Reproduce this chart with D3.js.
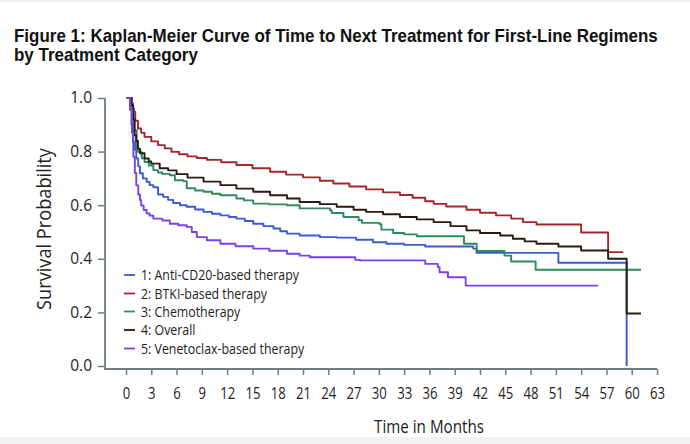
<!DOCTYPE html>
<html>
<head>
<meta charset="utf-8">
<script src="https://cdn.jsdelivr.net/npm/d3@7"></script>
<style>
  html, body { margin: 0; padding: 0; background: #ffffff; }
  svg { display: block; }
</style>
</head>
<body>
<svg id="chart" width="690" height="444"></svg>
<script>
// ---------- data ----------
const titleLines = [
  "Figure 1: Kaplan-Meier Curve of Time to Next Treatment for First-Line Regimens",
  "by Treatment Category"
];
const xTicks = [0,3,6,9,12,15,18,21,24,27,30,33,36,39,42,45,48,51,54,57,60,63];
const yTicks = [0.0,0.2,0.4,0.6,0.8,1.0];
const seriesNames = [
  "1: Anti-CD20-based therapy",
  "2: BTKI-based therapy",
  "3: Chemotherapy",
  "4: Overall",
  "5: Venetoclax-based therapy"
];
const seriesColors = ["#3a5ccc", "#a3262c", "#2d8a5c", "#2a1a12", "#7b42ec"];

// Anti-CD20
const antiTimes = [0,0.3,0.47,0.65,0.83,1.07,1.22,1.45,1.66,2.0,2.45,2.8,3.24,3.8,4.42,5.0,5.6,6.4,7.2,8.2,9.2,10.2,11.2,12.2,13.1,14.1,15.1,16.3,17.5,18.3,19.1,20.6,23,25,27.3,29.3,30.9,33,35.5,41.2,41.6,51.3,59.4];
const antiSurv  = [1,1,0.956,0.9,0.836,0.806,0.774,0.745,0.719,0.70,0.687,0.675,0.667,0.64,0.631,0.62,0.608,0.600,0.594,0.584,0.575,0.568,0.562,0.556,0.55,0.541,0.531,0.522,0.513,0.503,0.494,0.487,0.481,0.479,0.471,0.462,0.456,0.452,0.446,0.438,0.422,0.385,0];
// BTKI
const btkiTimes = [0,0.5,0.7,0.83,1.1,1.42,1.8,2.2,3.0,3.8,4.6,5.4,6.3,7.3,8.4,9.6,11.3,13.1,15,17.1,19,21,23,24.6,26.5,28.5,30.5,32.5,34,35.5,36.5,38,40.4,42,43.9,45.7,47.1,48.7,54,57.2,59];
const btkiSurv  = [1,1,0.98,0.949,0.915,0.886,0.87,0.855,0.838,0.824,0.812,0.799,0.79,0.782,0.776,0.769,0.76,0.75,0.738,0.725,0.714,0.704,0.691,0.681,0.67,0.659,0.648,0.638,0.628,0.615,0.605,0.595,0.583,0.572,0.562,0.55,0.537,0.528,0.498,0.425,0.425];
// Chemotherapy
const chemoTimes = [0,0.45,0.7,0.95,1.27,1.42,1.86,2.2,2.7,3.24,3.8,4.3,5.2,5.8,6.8,7.2,8.2,9.2,10.2,11.2,13.1,14,15.1,17,19.1,20.6,24.2,24.4,25.8,27.6,28,30.1,30.3,31.7,33,34.5,40.1,41.6,44.9,45.7,48.6,61.1];
const chemoSurv  = [1,1,0.96,0.88,0.806,0.799,0.775,0.761,0.748,0.731,0.722,0.717,0.712,0.693,0.69,0.663,0.655,0.65,0.643,0.637,0.625,0.618,0.606,0.603,0.60,0.588,0.581,0.571,0.556,0.544,0.534,0.529,0.509,0.496,0.491,0.484,0.456,0.429,0.412,0.39,0.359,0.359];
// Overall
const overallTimes = [0,0.4,0.63,0.85,1.03,1.2,1.42,1.66,2.2,2.7,3.0,4.0,5.0,6.0,7.3,9.2,11.2,13.1,15.1,17.1,19.1,20.6,23,25,27,28.5,30.5,32.5,34.5,36.5,38.5,40.4,42,44.4,45.9,47.3,48.7,51.3,54,57.2,59.4,61.1];
const overallSurv  = [1,1,0.974,0.92,0.861,0.84,0.811,0.794,0.774,0.763,0.755,0.738,0.73,0.716,0.703,0.688,0.675,0.662,0.65,0.637,0.625,0.612,0.604,0.594,0.583,0.575,0.566,0.556,0.547,0.537,0.522,0.506,0.496,0.487,0.475,0.465,0.456,0.446,0.431,0.40,0.196,0.196];
// Venetoclax
const venTimes = [0,0.3,0.5,0.7,0.87,1.05,1.22,1.45,1.66,1.8,2.1,2.45,2.8,3.24,4.3,5.2,6.2,7.2,7.8,8.4,9.6,11.2,13,15.1,17,19.1,20.6,21.8,27.2,27.8,35.5,37,37.2,38.2,40.3,56];
const venSurv  = [1,1,0.96,0.87,0.781,0.72,0.674,0.64,0.619,0.599,0.582,0.569,0.561,0.55,0.543,0.531,0.525,0.519,0.5,0.481,0.469,0.456,0.447,0.438,0.43,0.419,0.412,0.406,0.396,0.394,0.381,0.369,0.35,0.331,0.30,0.30];

const seriesTimes = [antiTimes, btkiTimes, chemoTimes, overallTimes, venTimes];
const seriesSurv  = [antiSurv, btkiSurv, chemoSurv, overallSurv, venSurv];

// ---------- layout ----------
const svg = d3.select("#chart");
const W = 690, H = 444;
const x = d3.scaleLinear().domain([0, 63]).range([126, 657]);
const y = d3.scaleLinear().domain([0, 1]).range([366, 98]);
const axisX = 105, axisY = 369;
const axisColor = "#6e7c84";
const textFont = "'Open Sans', 'Noto Sans', sans-serif";

// page bands
svg.append("rect").attr("x",0).attr("y",0).attr("width",W).attr("height",H).attr("fill","#ffffff");
svg.append("rect").attr("x",0).attr("y",0).attr("width",W).attr("height",2).attr("fill","#eeeeee");
svg.append("rect").attr("x",0).attr("y",437).attr("width",W).attr("height",7).attr("fill","#f3f3f3");

// title
const tg = svg.append("g");
const t1 = tg.append("text").attr("x",0).attr("y",0)
  .attr("font-family","'Liberation Sans', Arial, sans-serif").attr("font-weight","bold")
  .attr("font-size",17.5).attr("fill","#111").text(titleLines[0]);
const k1 = 644 / t1.node().getComputedTextLength();
t1.attr("transform", `translate(14,42) scale(${k1},1)`);
tg.append("text").attr("transform", `translate(14,61) scale(${k1},1)`)
  .attr("font-family","'Liberation Sans', Arial, sans-serif").attr("font-weight","bold")
  .attr("font-size",17.5).attr("fill","#111").text(titleLines[1]);

// axes
const yAxis = d3.axisLeft(y).tickValues(yTicks).tickFormat(d3.format(".1f"))
  .tickSize(7).tickPadding(6).tickSizeOuter(0);
const gy = svg.append("g").attr("transform", `translate(${axisX},0)`).call(yAxis);
gy.select(".domain").remove();
gy.selectAll(".tick line").attr("stroke", axisColor).attr("stroke-width", 1.5);
gy.selectAll(".tick text").attr("font-family", textFont).attr("font-size", 15.5).attr("fill", "#222");

const xAxis = d3.axisBottom(x).tickValues(xTicks).tickFormat(d3.format("d"))
  .tickSize(6).tickPadding(13).tickSizeOuter(0);
const gx = svg.append("g").attr("transform", `translate(0,${axisY})`).call(xAxis);
gx.select(".domain").remove();
gx.selectAll(".tick line").attr("stroke", axisColor).attr("stroke-width", 1.5);
gx.selectAll(".tick text").attr("font-family", textFont).attr("font-size", 16).attr("fill", "#222")
  .attr("transform","scale(0.82,1)")
  .attr("x", 0);

svg.append("path")
  .attr("d", `M${axisX},${y(1)}V${axisY}H${x(63)}`)
  .attr("fill","none").attr("stroke", axisColor).attr("stroke-width", 1.8);

// axis titles
const yt = svg.append("text").attr("font-family", textFont).attr("font-size", 19.5)
  .attr("fill", "#222").attr("text-anchor","middle").text("Survival Probability");
const kyt = 162 / yt.node().getComputedTextLength();
yt.attr("transform", `translate(51,229) rotate(-90) scale(${kyt},1)`);

const xt = svg.append("text").attr("font-family", textFont).attr("font-size", 18.5)
  .attr("fill", "#222").attr("text-anchor","middle").text("Time in Months");
const kxt = 110 / xt.node().getComputedTextLength();
xt.attr("transform", `translate(429,433) scale(${kxt},1)`);

// curves
const line = d3.line().x(d => x(d[0])).y(d => y(d[1])).curve(d3.curveStepAfter);
seriesNames.forEach((name, i) => {
  const pts = seriesTimes[i].map((t, j) => [t, seriesSurv[i][j]]);
  svg.append("path").datum(pts)
    .attr("d", line)
    .attr("fill", "none")
    .attr("stroke", seriesColors[i])
    .attr("stroke-width", 1.9)
    .attr("stroke-linejoin", "round");
});

// legend
const lg = svg.append("g");
const legendY = [275, 293.5, 311.5, 330, 348.5];
let kl = 1;
seriesNames.forEach((name, i) => {
  lg.append("line").attr("x1",124).attr("x2",135).attr("y1",legendY[i]).attr("y2",legendY[i])
    .attr("stroke", seriesColors[i]).attr("stroke-width", 1.8);
  const tx = lg.append("text").attr("font-family", textFont).attr("font-size", 14.5)
    .attr("fill","#222").attr("dy","0.35em").text(name);
  if (i === 0) kl = 158 / tx.node().getComputedTextLength();
  tx.attr("transform", `translate(141,${legendY[i]}) scale(${kl},1)`);
});
</script>
</body>
</html>
